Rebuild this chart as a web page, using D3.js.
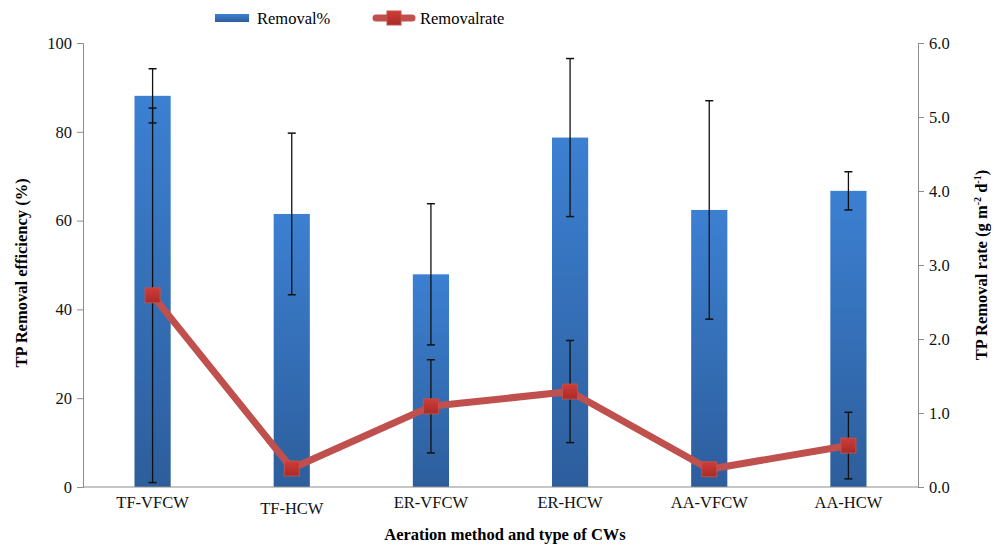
<!DOCTYPE html>
<html>
<head>
<meta charset="utf-8">
<script src="https://cdn.jsdelivr.net/npm/d3@7"></script>
<style>
  body { margin: 0; background: #fff; }
  svg text { font-family: "Liberation Serif", "DejaVu Serif", serif !important; }
</style>
</head>
<body>
<svg></svg>
<script>
// chart size
const width = 998, height = 547,
  margin = { top: 43, bottom: 60, left: 83, right: 80 };

// data
const categories = ['TF-VFCW', 'TF-HCW', 'ER-VFCW', 'ER-HCW', 'AA-VFCW', 'AA-HCW'];
const removalPct = [88.1, 61.5, 47.9, 78.7, 62.4, 66.7];
const removalPctErr = [6.1, 18.2, 15.9, 17.8, 24.6, 4.3];
const removalRate = [2.59, 0.25, 1.09, 1.29, 0.24, 0.56];
const removalRateErr = [2.53, 0.05, 0.63, 0.69, 0.04, 0.45];
const leftTicks = [0, 20, 40, 60, 80, 100];
const rightTicks = [0, 1, 2, 3, 4, 5, 6];

const svg = d3.select("svg").attr("width", width).attr("height", height);

const innerW = width - margin.left - margin.right,
  innerH = height - margin.top - margin.bottom;

const g = svg.append("g").attr("transform", `translate(${margin.left},${margin.top})`);

const x = d3.scaleBand().domain(categories).range([0, innerW]).paddingInner(0.74).paddingOuter(0.37);
const yL = d3.scaleLinear().domain([0, 100]).range([innerH, 0]);
const yR = d3.scaleLinear().domain([0, 6]).range([innerH, 0]);

// bar gradient
const defs = svg.append("defs");
const grad = defs.append("linearGradient").attr("id", "barGrad")
  .attr("x1", "0%").attr("y1", "0%").attr("x2", "0%").attr("y2", "100%");
grad.append("stop").attr("offset", "0%").attr("stop-color", "#3c80d2");
grad.append("stop").attr("offset", "100%").attr("stop-color", "#2d5e9c");

const mgrad = defs.append("linearGradient").attr("id", "markGrad")
  .attr("x1", "0%").attr("y1", "0%").attr("x2", "0%").attr("y2", "100%");
mgrad.append("stop").attr("offset", "0%").attr("stop-color", "#cf3d38");
mgrad.append("stop").attr("offset", "100%").attr("stop-color", "#a92a27");

// axes
const axisL = g.append("g").call(d3.axisLeft(yL).tickValues(leftTicks).tickSize(6).tickFormat(d3.format("d")));
const axisR = g.append("g").attr("transform", `translate(${innerW},0)`)
  .call(d3.axisRight(yR).tickValues(rightTicks).tickSize(6).tickFormat(d3.format(".1f")));
[axisL, axisR].forEach(a => {
  a.attr("font-family", null);
  a.select(".domain").attr("stroke", "#8c8c8c");
  a.selectAll(".tick line").attr("stroke", "#8c8c8c");
  a.selectAll("text").attr("font-size", 16.5).attr("fill", "#111");
});
axisL.selectAll("text").attr("x", -11);
axisR.selectAll("text").attr("x", 11);

// bars
g.selectAll(".bar").data(removalPct).join("rect")
  .attr("class", "bar")
  .attr("x", (d, i) => x(categories[i]))
  .attr("y", d => yL(d))
  .attr("width", x.bandwidth())
  .attr("height", d => innerH - yL(d))
  .attr("fill", "url(#barGrad)");

// x axis line
g.append("line").attr("x1", 0).attr("x2", innerW).attr("y1", innerH).attr("y2", innerH)
  .attr("stroke", "#8c8c8c").attr("stroke-width", 1);

const cx = i => x(categories[i]) + x.bandwidth() / 2;

// error bars helper
function errBar(xc, y1, y2) {
  g.append("line").attr("x1", xc).attr("x2", xc).attr("y1", y1).attr("y2", y2)
    .attr("stroke", "#111").attr("stroke-width", 1.3);
  [y1, y2].forEach(yy => g.append("line").attr("x1", xc - 4).attr("x2", xc + 4)
    .attr("y1", yy).attr("y2", yy).attr("stroke", "#111").attr("stroke-width", 1.5));
}

removalPct.forEach((v, i) => errBar(cx(i), yL(v + removalPctErr[i]), yL(v - removalPctErr[i])));
removalRate.forEach((v, i) => errBar(cx(i), yR(v + removalRateErr[i]), yR(Math.max(0, v - removalRateErr[i]))));

// rate line
g.append("path").datum(removalRate)
  .attr("fill", "none").attr("stroke", "#c0504d").attr("stroke-width", 7)
  .attr("stroke-linejoin", "round")
  .attr("d", d3.line().x((d, i) => cx(i)).y(d => yR(d)));

const ms = 15;
g.selectAll(".mark").data(removalRate).join("rect")
  .attr("class", "mark")
  .attr("x", (d, i) => cx(i) - ms / 2)
  .attr("y", d => yR(d) - ms / 2)
  .attr("width", ms).attr("height", ms)
  .attr("fill", "url(#markGrad)")
  .attr("stroke", "#c0504d").attr("stroke-width", 1);

// category labels
g.selectAll(".cat").data(categories).join("text")
  .attr("class", "cat")
  .attr("x", (d, i) => cx(i))
  .attr("y", (d, i) => innerH + (i === 1 ? 27 : 21))
  .attr("text-anchor", "middle")
  .attr("font-size", 16.5).attr("fill", "#111")
  .text(d => d);

// axis titles
svg.append("text")
  .attr("x", 505).attr("y", 540)
  .attr("text-anchor", "middle").attr("font-weight", "bold").attr("font-size", 16.5)
  .text("Aeration method and type of CWs");

svg.append("text")
  .attr("transform", `translate(27,${margin.top + innerH / 2 + 8}) rotate(-90)`)
  .attr("text-anchor", "middle").attr("font-weight", "bold").attr("font-size", 16.5)
  .text("TP Removal efficiency (%)");

const rt = svg.append("text")
  .attr("transform", `translate(987,${margin.top + innerH / 2}) rotate(-90)`)
  .attr("text-anchor", "middle").attr("font-weight", "bold").attr("font-size", 16.5);
rt.append("tspan").text("TP Removal rate (g  m");
rt.append("tspan").attr("dy", -6).attr("font-size", 10).text("-2");
rt.append("tspan").attr("dy", 6).text(" d");
rt.append("tspan").attr("dy", -6).attr("font-size", 10).text("-1");
rt.append("tspan").attr("dy", 6).text(")");

// legend
const leg = svg.append("g");
leg.append("rect").attr("x", 215).attr("y", 14).attr("width", 34).attr("height", 8).attr("fill", "url(#barGrad)");
leg.append("text").attr("x", 257).attr("y", 24).attr("font-size", 16.5).text("Removal%");
leg.append("line").attr("x1", 376).attr("x2", 412).attr("y1", 18).attr("y2", 18)
  .attr("stroke", "#c0504d").attr("stroke-width", 7).attr("stroke-linecap", "round");
leg.append("rect").attr("x", 387).attr("y", 11).attr("width", 14).attr("height", 14)
  .attr("fill", "url(#markGrad)").attr("stroke", "#c0504d");
leg.append("text").attr("x", 420).attr("y", 24).attr("font-size", 16.5).text("Removalrate");
</script>
</body>
</html>
